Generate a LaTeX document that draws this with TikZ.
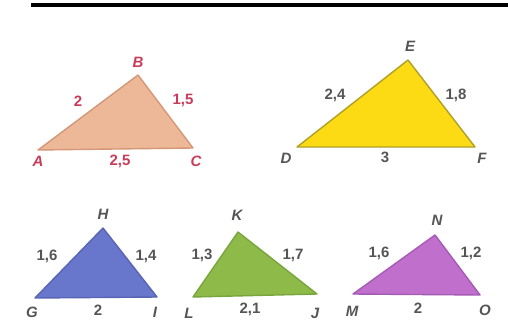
\documentclass[tikz,border=0pt]{standalone}
\usepackage{fontspec}
\setmainfont{Liberation Sans}
\definecolor{peach}{RGB}{236,184,152}
\definecolor{peachedge}{RGB}{214,150,120}
\definecolor{yel}{RGB}{252,218,20}
\definecolor{yeledge}{RGB}{175,160,40}
\definecolor{blu}{RGB}{104,118,204}
\definecolor{bluedge}{RGB}{88,100,180}
\definecolor{grn}{RGB}{142,186,74}
\definecolor{grnedge}{RGB}{120,165,60}
\definecolor{pur}{RGB}{192,112,204}
\definecolor{puredge}{RGB}{165,90,180}
\definecolor{redlab}{RGB}{200,60,90}
\definecolor{graylab}{RGB}{85,85,85}
\begin{document}
\begin{tikzpicture}[x=1pt,y=-1pt,
  vlab/.style={font=\fontsize{15}{15}\selectfont\bfseries\itshape, inner sep=0pt},
  slab/.style={font=\fontsize{15}{15}\selectfont\bfseries, inner sep=0pt},
  tri/.style={line width=1.4pt, line join=round}]
\useasboundingbox (0,0) rectangle (508,329);
\draw[line width=4pt, black] (31,5) -- (508,5);
% ABC
\coordinate (A) at (38,150);
\coordinate (B) at (138,75);
\coordinate (C) at (193,148);
\filldraw[tri, fill=peach, draw=peachedge] (A) -- (B) -- (C) -- cycle;
\node[vlab, text=redlab] (lA) at (38,161) {A};
\node[vlab, text=redlab] (lB) at (138,62) {B};
\node[vlab, text=redlab] (lC) at (196,161) {C};
\node[slab, text=redlab] (sAB) at (78,101) {2};
\node[slab, text=redlab] (sBC) at (183,101) {1,5};
\node[slab, text=redlab] (sAC) at (120,161) {2,5};
% DEF
\coordinate (D) at (297,147);
\coordinate (E) at (408,60);
\coordinate (F) at (475,147);
\filldraw[tri, fill=yel, draw=yeledge] (D) -- (E) -- (F) -- cycle;
\node[vlab, text=graylab] (lD) at (286,158) {D};
\node[vlab, text=graylab] (lE) at (410,46) {E};
\node[vlab, text=graylab] (lF) at (482,158) {F};
\node[slab, text=graylab] (sDE) at (335,95) {2,4};
\node[slab, text=graylab] (sEF) at (456,95) {1,8};
\node[slab, text=graylab] (sDF) at (385,157) {3};
% GHI
\coordinate (G) at (35,298);
\coordinate (H) at (103,228);
\coordinate (I) at (157,297);
\filldraw[tri, fill=blu, draw=bluedge] (G) -- (H) -- (I) -- cycle;
\node[vlab, text=graylab] (lG) at (32,312) {G};
\node[vlab, text=graylab] (lH) at (103,214) {H};
\node[vlab, text=graylab] (lI) at (155,312) {I};
\node[slab, text=graylab] (sGH) at (47,256) {1,6};
\node[slab, text=graylab] (sHI) at (146,256) {1,4};
\node[slab, text=graylab] (sGI) at (98,310) {2};
% LKJ
\coordinate (L) at (193,297);
\coordinate (K) at (238,232);
\coordinate (J) at (317,294);
\filldraw[tri, fill=grn, draw=grnedge] (L) -- (K) -- (J) -- cycle;
\node[vlab, text=graylab] (lL) at (189,313) {L};
\node[vlab, text=graylab] (lK) at (237,215) {K};
\node[vlab, text=graylab] (lJ) at (315,313) {J};
\node[slab, text=graylab] (sLK) at (202,255) {1,3};
\node[slab, text=graylab] (sKJ) at (293,255) {1,7};
\node[slab, text=graylab] (sLJ) at (250,309) {2,1};
% MNO
\coordinate (M) at (353,294);
\coordinate (N) at (435,235);
\coordinate (O) at (480,295);
\filldraw[tri, fill=pur, draw=puredge] (M) -- (N) -- (O) -- cycle;
\node[vlab, text=graylab] (lM) at (352,311) {M};
\node[vlab, text=graylab] (lN) at (437,220) {N};
\node[vlab, text=graylab] (lO) at (485,310) {O};
\node[slab, text=graylab] (sMN) at (379,253) {1,6};
\node[slab, text=graylab] (sNO) at (471,253) {1,2};
\node[slab, text=graylab] (sMO) at (418,308) {2};
\end{tikzpicture}
\end{document}
